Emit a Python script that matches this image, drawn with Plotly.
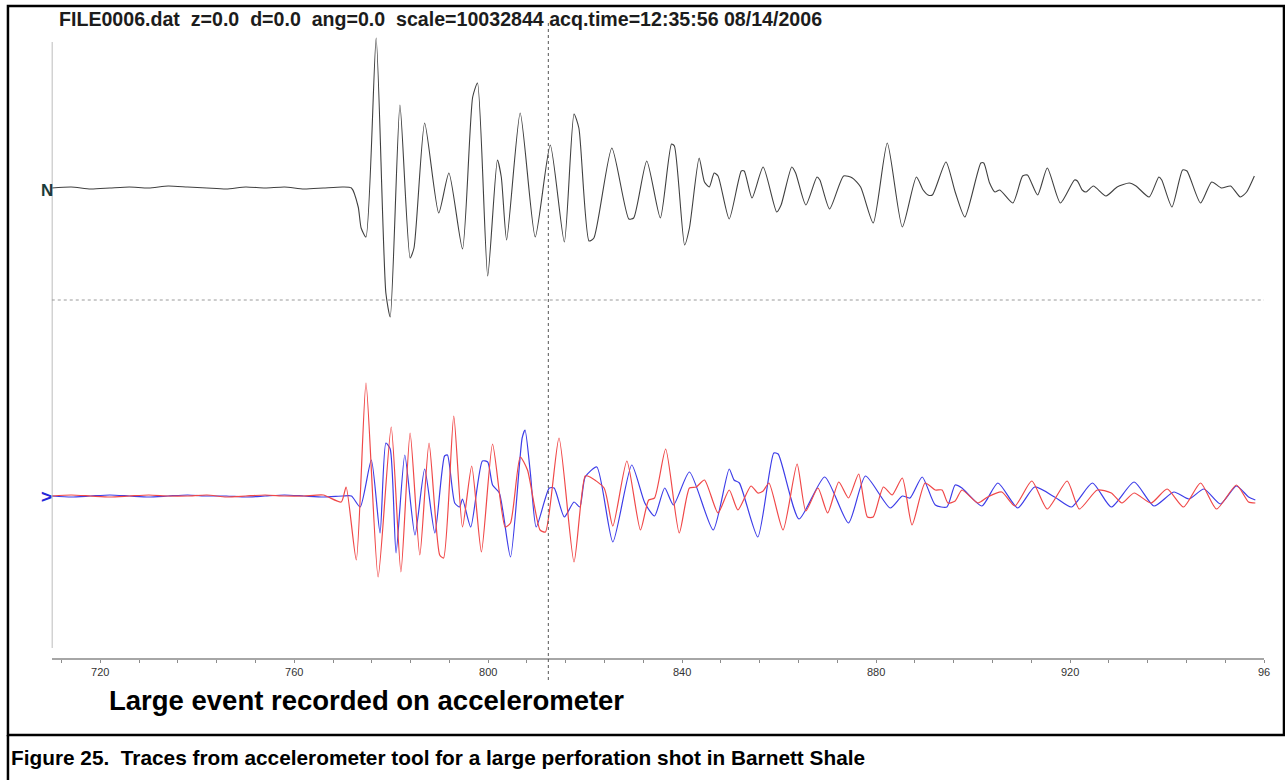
import plotly.graph_objects as go

# ---------------- data ----------------
# Time axis (sample time) tick positions and labels
TICK_VALS = [712, 720, 728, 736, 744, 752, 760, 768, 776, 784, 792, 800, 808, 816,
             824, 832, 840, 848, 856, 864, 872, 880, 888, 896, 904, 912, 920, 928,
             936, 944, 952, 960]
LABELLED = {720: "720", 760: "760", 800: "800", 840: "840", 880: "880", 920: "920", 960: "96"}

# Vertical (Z) channel "N"
N_T = [710, 714, 718, 722, 726, 730, 734, 738, 742, 746, 750, 754, 758, 762, 766, 770,
       771.8, 773.2, 773.8, 774.8, 776.9, 778.9, 779.8, 781.8, 783.9, 784.7, 786.9, 789.8,
       791.9, 794.7, 796.8, 797.8, 799.9, 801.9, 802.7, 803.8, 806.6, 809.7, 812.8, 815.7,
       817.7, 818.7, 820.8, 821.8, 825.5, 829.0, 830.0, 832.7, 835.5, 837.8, 838.4, 840.5,
       841.5, 843.5, 844.6, 845.6, 846.6, 847.4, 849.7, 852.2, 852.8, 854.4, 856.7, 859.5,
       860.4, 862.6, 863.4, 865.5, 867.8, 868.4, 870.4, 873.3, 875.1, 876.8, 879.4, 882.3,
       885.4, 888.3, 889.7, 890.7, 891.6, 894.4, 896.3, 898.3, 901.6, 902.2, 903.4, 904.5,
       905.5, 908.2, 910.2, 911.2, 913.3, 915.3, 918.0, 920.9, 921.5, 922.5, 923.3, 924.8,
       927.4, 929.7, 932.2, 933.6, 936.3, 938.3, 938.9, 941.0, 943.2, 944.1, 946.9, 949.2,
       951.2, 953.1, 955.1, 956.4, 958.0]
N_A = [0, 1, -1, 0, 1, 0, 2, 1, 0, -1, 1, 0, 1, -1, 0, 1,
       0, -19, -40, -49, 150, -105, -129, 83, -70, -60, 65, -25,
       15, -61, 91, 105, -88, 28, 11, -52, 75, -49, 43, -54,
       74, 60, -53, -50, 40, -31, -30, 27, -30, 44, 42, -57,
       -40, 30, 6, 1, 15, 12, -31, 17, 17, -10, 21, -24,
       -17, 21, 15, -17, 11, 8, -21, 12, 10, 1, -35, 45,
       -39, 11, -2, -7, -7, 26, -4, -29, 25, 25, 5, -4,
       -2, -15, 12, 13, -7, 20, -15, 8, 7, -2, -4, 2,
       -8, 1, 5, 2, -9, 11, 8, -19, 18, 17, -15, 6,
       0, 2, -9, -4, 12]

# Horizontal channel 1 (red)
R_T = [710, 714, 718, 722, 726, 730, 734, 738, 742, 746, 750, 754, 758, 762, 766,
       769.7, 770.7, 772.8, 774.8, 777.3, 780.0, 782.0, 783.9, 785.9, 787.8, 790.0, 790.8,
       792.9, 794.7, 796.6, 798.6, 800.9, 803.5, 804.6, 806.6, 808.1, 810.7, 811.8, 814.6,
       817.7, 820.0, 821.0, 823.9, 825.7, 828.6, 831.4, 833.1, 834.3, 836.6, 839.4, 841.5,
       842.9, 844.6, 847.4, 849.7, 851.5, 854.2, 855.6, 856.7, 857.9, 860.8, 863.7, 865.5,
       868.0, 870.0, 872.3, 874.3, 876.4, 878.2, 879.4, 881.5, 883.3, 885.4, 887.4, 890.1,
       892.2, 893.6, 894.8, 896.3, 897.7, 901.0, 903.0, 905.9, 908.6, 912.1, 915.3, 919.4,
       921.9, 925.6, 928.5, 930.7, 933.2, 936.7, 940.0, 943.4, 946.9, 950.2, 954.3, 956.8,
       958.2]
R_A = [0, 1, 0, -1, 0, 1, 0, 0, 1, -1, 0, 1, 0, 0, 1,
       -6, 9, -64, 113, -81, 69, -76, 63, -59, 53, -59, -62,
       80, -31, 30, -56, 52, -31, -27, 39, 26, -34, -36, 58,
       -66, 20, 19, 8, -30, 35, -34, -4, -2, 47, -37, 8,
       9, 16, -17, 6, -14, 10, 3, 5, 13, -34, 32, -15,
       8, -17, 14, -2, 22, -21, -21, 9, 1, 18, -29, 13,
       6, 6, -7, -5, 6, -7, -1, 4, -10, 15, -13, 15,
       -13, 6, 3, -7, 3, -7, 7, -11, 13, -13, 11, -6,
       -7]

# Horizontal channel 2 (blue)
B_T = [710, 714, 718, 722, 726, 730, 734, 738, 742, 746, 750, 754, 758, 762, 766, 770,
       771.8, 773.6, 775.9, 777.7, 778.9, 779.8, 781.0, 782.8, 784.9, 786.9, 789.0, 791.0,
       791.6, 793.1, 794.1, 794.7, 796.4, 798.8, 799.9, 800.9, 802.3, 804.6, 807.0, 807.6,
       808.7, 809.9, 812.6, 813.6, 815.7, 817.7, 818.9, 820.0, 822.4, 825.7, 829.6, 832.3,
       834.3, 836.4, 838.2, 841.5, 846.4, 849.7, 850.7, 851.8, 855.6, 858.9, 859.8, 864.1,
       869.4, 874.3, 877.8, 882.9, 885.4, 887.0, 889.5, 892.2, 894.6, 896.3, 897.7, 901.8,
       905.1, 909.2, 912.7, 916.8, 920.3, 924.6, 928.5, 933.2, 937.3, 941.4, 944.5, 947.6,
       951.0, 954.3, 956.8, 958.2]
B_A = [0, -1, 0, 1, 0, -1, 0, 1, 0, 0, -1, 0, 1, 0, -1, 0,
       0, -11, 36, -37, 53, 47, -57, 41, -39, 27, -37, 40,
       41, -7, -11, -3, -31, 35, 34, 11, 3, -61, 58, 66,
       23, -31, 8, 8, -21, -6, -11, 19, 29, -46, 31, -7,
       -20, 8, -9, 24, -34, 27, 16, 13, -41, 43, 42, -23,
       19, -27, 20, -12, 0, -2, 19, -9, -11, 11, 8, -10,
       13, -12, 9, -1, -11, 13, -11, 14, -10, 4, -3, 7,
       -8, 10, -1, -4]

CURSOR_T = 812.4          # dotted cursor line
TITLE = ("FILE0006.dat\u00a0\u00a0z=0.0\u00a0\u00a0d=0.0\u00a0\u00a0ang=0.0\u00a0\u00a0"
         "scale=10032844 acq.time=12:35:56 08/14/2006")
SUBTITLE = "Large event recorded on accelerometer"
CAPTION = "Figure 25.\u00a0\u00a0Traces from accelerometer tool for a large perforation shot in Barnett Shale"

# ---------------- layout constants ----------------
W, H = 1285, 780
N_BASE = 470      # trace offsets on the (pixel-like) y axis
H_BASE = 162
SPLIT_Y = 358
Y_MAX = 638
FONT = "Liberation Sans, Arial, Helvetica, sans-serif"

def px(x):
    return x / W

def py(y):
    return 1 - y / H

LINE_SHAPE = dict(shape="spline", smoothing=0.6)

fig = go.Figure()
fig.add_trace(go.Scatter(x=B_T, y=[H_BASE + a for a in B_A], mode="lines",
                         line=dict(color="#3d3de8", width=1.2, **LINE_SHAPE), name="H2"))
fig.add_trace(go.Scatter(x=R_T, y=[H_BASE + a for a in R_A], mode="lines",
                         line=dict(color="#f04848", width=1.2, **LINE_SHAPE), name="H1"))
fig.add_trace(go.Scatter(x=N_T, y=[N_BASE + a for a in N_A], mode="lines",
                         line=dict(color="#404040", width=1.1, **LINE_SHAPE), name="Z"))

ticktext = [LABELLED.get(v, "") for v in TICK_VALS]

fig.update_layout(
    width=W, height=H,
    margin=dict(l=0, r=0, t=0, b=0),
    paper_bgcolor="white", plot_bgcolor="white",
    showlegend=False,
    xaxis=dict(domain=[px(52), px(1270)], range=[710, 960], showgrid=False, zeroline=False,
               showline=True, linecolor="#a6a6a6", linewidth=1.5,
               tickmode="array", tickvals=TICK_VALS, ticktext=ticktext,
               ticks="outside", ticklen=3, tickcolor="#8c8c8c", tickwidth=1,
               tickfont=dict(family=FONT, size=11, color="#333333")),
    yaxis=dict(domain=[py(658), py(20)], range=[0, Y_MAX], visible=False, fixedrange=True),
)

shapes = [
    # vertical amplitude axis
    dict(type="line", xref="x", yref="y", x0=710, x1=710, y0=10, y1=616,
         line=dict(color="#a6a6a6", width=1.5)),
    # horizontal dotted separator between channels
    dict(type="line", xref="x", yref="y", x0=710, x1=960, y0=SPLIT_Y, y1=SPLIT_Y,
         line=dict(color="#9a9a9a", width=1, dash="dot")),
    # vertical dotted cursor
    dict(type="line", xref="x", yref="paper", x0=CURSOR_T, x1=CURSOR_T, y0=py(680), y1=py(20),
         line=dict(color="#555555", width=1, dash="dot")),
    # outer frame
    dict(type="rect", xref="paper", yref="paper", x0=px(8), x1=px(1290), y0=py(735), y1=py(6),
         line=dict(color="black", width=2.5)),
    dict(type="line", xref="paper", yref="paper", x0=px(8), x1=px(8), y0=py(735), y1=py(790),
         line=dict(color="black", width=2.5)),
]
fig.update_layout(shapes=shapes)

annotations = [
    dict(text="<b>" + TITLE + "</b>", xref="paper", yref="paper", x=px(57), y=py(19),
         xanchor="left", yanchor="middle", showarrow=False,
         font=dict(family=FONT, size=19.6, color="#1c1c1c")),
    dict(text="<b>N</b>", xref="x", yref="y", x=710, y=N_BASE - 2, xanchor="center", yanchor="middle",
         xshift=-5, showarrow=False, font=dict(family=FONT, size=17, color="#1a3a3a")),
    dict(text="<b>&gt;</b>", xref="x", yref="y", x=710, y=H_BASE, xanchor="center", yanchor="middle",
         xshift=-5, showarrow=False, font=dict(family=FONT, size=19, color="#2626d8")),
    dict(text="<b>" + SUBTITLE + "</b>", xref="paper", yref="paper", x=px(107), y=py(700),
         xanchor="left", yanchor="middle", showarrow=False,
         font=dict(family=FONT, size=27.5, color="black")),
    dict(text="<b>" + CAPTION + "</b>", xref="paper", yref="paper", x=px(9), y=py(757),
         xanchor="left", yanchor="middle", showarrow=False,
         font=dict(family=FONT, size=20.8, color="black")),
]
fig.update_layout(annotations=annotations)

fig.write_html("out.html", config={"displayModeBar": False},
               post_script="document.body.style.margin='0';document.body.style.overflow='hidden';")
